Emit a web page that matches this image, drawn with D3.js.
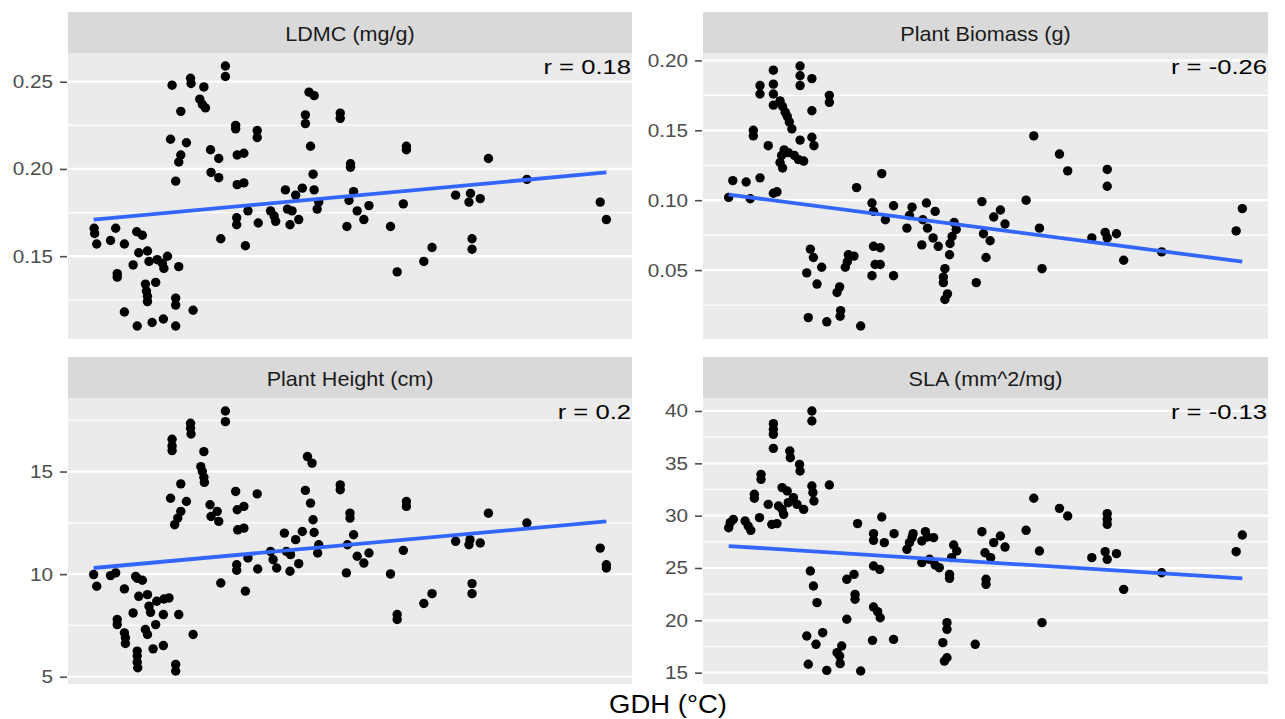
<!DOCTYPE html>
<html>
<head>
<meta charset="utf-8">
<script src="https://cdn.jsdelivr.net/npm/d3@7"></script>
<style>
  body { margin: 0; background: #fff; }
  text { font-family: "Liberation Sans", Arial, sans-serif; }
</style>
</head>
<body>
<div id="chart"></div>
<script>
// points are [GDH, value]; GDH axis is unlabelled so it is kept on a relative 0-100 scale
var ldmc = [
  [0.1,0.166],[0.2,0.163],[0.6,0.157],[4.3,0.166],[3.3,0.159],[6.0,0.157],[8.4,0.164],[9.5,0.162],[4.6,0.140],[4.6,0.138],
  [7.7,0.145],[8.8,0.152],[10.5,0.153],[10.8,0.147],[12.4,0.148],[14.4,0.150],[13.7,0.143],[13.4,0.146],[16.6,0.144],[10.1,0.134],
  [10.3,0.130],[10.5,0.127],[10.5,0.124],[12.1,0.135],[16.0,0.126],[16.0,0.122],[19.4,0.119],[6.0,0.118],[8.5,0.110],[11.4,0.112],
  [13.6,0.114],[16.0,0.110],
  [15.3,0.248],[18.9,0.252],[19.0,0.249],[21.5,0.247],[20.7,0.240],[21.2,0.237],[21.8,0.235],[25.7,0.259],[25.7,0.253],[17.0,0.233],
  [15.0,0.217],[18.1,0.215],[17.0,0.208],[16.6,0.204],[16.0,0.193],[22.8,0.211],[24.4,0.206],[22.9,0.198],[24.4,0.195],[24.8,0.160],
  [27.7,0.225],[27.7,0.223],[28.0,0.208],[29.3,0.209],[28.0,0.191],[29.3,0.192],[31.9,0.222],[31.9,0.218],[27.9,0.172],[27.9,0.168],
  [30.1,0.176],[32.1,0.169],[29.6,0.156],[34.5,0.176],[35.2,0.173],[35.5,0.170],[37.4,0.188],[37.8,0.177],[38.7,0.176],[38.3,0.168],
  [39.4,0.185],[40.7,0.189],[40.0,0.171],[41.3,0.231],[41.3,0.226],[42.0,0.244],[43.0,0.242],[42.3,0.213],[42.8,0.197],[43.0,0.188],
  [43.9,0.181],[43.6,0.177],[48.1,0.232],[48.1,0.229],
  [50.1,0.203],[50.1,0.201],[50.7,0.187],[49.8,0.182],[51.4,0.176],[52.7,0.171],[53.7,0.179],[49.4,0.167],[57.9,0.167],[60.4,0.180],
  [61.0,0.213],[61.0,0.211],[59.2,0.141],[64.4,0.147],[66.0,0.155],[70.6,0.185],[73.5,0.186],[73.2,0.181],[75.4,0.183],[73.8,0.160],
  [73.8,0.154],[77.0,0.206],[84.5,0.194],[98.8,0.181],[100.0,0.171]
];

var biomass = [
  [0.0,0.102],[0.8,0.114],[3.4,0.113],[4.2,0.101],[6.1,0.116],[7.7,0.139],[4.8,0.150],[4.8,0.146],[6.1,0.182],[6.1,0.176],
  [8.7,0.193],[8.7,0.183],[8.7,0.176],[8.7,0.168],[10.0,0.171],[10.5,0.167],[11.0,0.163],[11.4,0.160],[11.8,0.156],[12.3,0.151],
  [13.9,0.196],[13.9,0.189],[13.9,0.182],[16.2,0.187],[16.2,0.164],[19.6,0.175],[19.6,0.170],[13.9,0.143],[16.2,0.145],[16.6,0.139],
  [10.8,0.136],[10.3,0.132],[10.0,0.127],[10.5,0.123],[11.6,0.134],[12.8,0.132],[13.6,0.129],[14.6,0.128],[8.7,0.105],[9.4,0.106],
  [24.9,0.109],[29.8,0.119],[27.9,0.098],[28.2,0.092],[32.1,0.096],[30.5,0.086],[35.7,0.095],[35.2,0.089],[34.7,0.080],[38.5,0.098],
  [40.2,0.092],[37.8,0.086],[38.7,0.080],[39.8,0.073],[40.8,0.067],[37.6,0.068],[43.9,0.084],[44.3,0.079],[43.5,0.074],[43.1,0.069],
  [43.0,0.061],[42.1,0.051],[41.8,0.045],[41.8,0.041],[42.6,0.033],[42.1,0.029],[15.9,0.065],[16.5,0.059],[18.1,0.052],[15.2,0.048],
  [17.2,0.040],[21.6,0.038],[21.1,0.034],[21.8,0.021],[21.7,0.017],[15.5,0.016],[19.1,0.013],[25.7,0.010],[23.3,0.061],[24.4,0.060],
  [23.1,0.056],[22.7,0.052],[28.2,0.067],[29.5,0.066],[28.5,0.054],[29.5,0.054],[27.9,0.046],[32.1,0.046],[48.2,0.041],[49.3,0.099],
  [51.6,0.088],[52.9,0.093],[53.8,0.083],[49.6,0.076],[50.9,0.071],[50.1,0.059],[57.9,0.100],[59.4,0.146],[60.5,0.080],[61.0,0.051],
  [64.4,0.133],[66.0,0.121],[70.7,0.073],[73.7,0.122],[73.7,0.110],[73.3,0.077],[73.7,0.073],[75.5,0.076],[76.9,0.057],[84.3,0.063],
  [98.8,0.078],[100.0,0.094]
];

var height = [
  [0.0,9.98],[0.6,9.41],[3.3,9.93],[4.3,10.06],[6.0,9.28],[8.2,9.89],[8.5,9.80],[9.5,9.70],[4.6,7.79],[4.6,7.54],
  [6.0,7.14],[6.2,6.90],[6.2,6.62],[7.7,8.11],[8.8,8.92],[10.5,9.00],[10.8,8.44],[12.3,8.68],[13.7,8.79],[14.7,8.84],
  [11.1,8.14],[13.6,8.03],[16.6,8.03],[10.1,7.30],[10.5,7.06],[12.1,7.54],[19.4,7.06],[11.6,6.36],[13.6,6.52],[8.5,6.25],
  [8.5,6.01],[8.5,5.71],[8.6,5.44],[16.0,5.60],[16.0,5.28],
  [15.3,16.57],[15.3,16.25],[15.3,16.02],[18.9,17.35],[18.9,17.11],[19.0,16.83],[21.5,15.97],[20.9,15.24],[21.2,15.00],[21.5,14.72],
  [21.6,14.47],[25.7,17.95],[25.7,17.43],[17.0,14.40],[15.0,13.70],[18.1,13.54],[17.0,13.06],[16.4,12.73],[15.8,12.41],[22.7,13.38],
  [24.1,13.06],[22.9,12.81],[24.4,12.57],[24.8,9.57],[27.7,14.03],[28.0,13.14],[29.3,13.30],[28.1,12.16],[29.3,12.24],[31.9,13.91],
  [27.9,10.46],[27.9,10.19],[30.1,10.79],[32.0,10.25],[29.6,9.17],[34.5,11.11],[35.0,10.71],[35.7,10.30],[37.2,12.00],[37.6,11.11],
  [38.4,10.95],[38.3,10.14],[39.4,11.68],[40.7,12.08],[40.0,10.51],[41.7,15.73],[42.6,15.41],[41.3,14.08],[42.3,13.46],[42.8,12.65],
  [43.0,12.03],[43.9,11.43],[43.7,11.03],[48.1,14.35],[48.1,14.11],
  [50.0,12.97],[50.0,12.73],[50.7,11.92],[49.5,11.43],[51.4,10.87],[52.7,10.54],[53.7,11.03],[49.3,10.06],[57.9,10.01],[60.4,11.16],
  [61.0,13.54],[61.0,13.30],[59.2,8.03],[59.2,7.79],[64.4,8.57],[66.0,9.05],[70.6,11.60],[73.4,11.68],[73.2,11.43],[75.4,11.52],
  [73.8,9.54],[73.8,9.05],[77.0,12.97],[84.5,12.49],[98.8,11.27],[100.0,10.46],[100.0,10.30]
];

var sla = [
  [0.0,28.85],[0.3,29.33],[0.9,29.65],[3.2,29.49],[3.8,29.01],[4.3,28.60],[6.0,29.81],[5.0,32.04],[5.0,31.66],[6.3,33.95],
  [6.3,33.47],[7.7,31.08],[8.7,38.79],[8.7,38.25],[8.7,37.77],[8.7,36.43],[8.4,29.17],[9.4,29.24],[9.7,30.92],[10.4,30.60],
  [10.7,30.13],[10.4,32.68],[11.4,32.36],[11.9,36.18],[12.0,35.54],[11.6,31.24],[12.6,31.72],[13.3,31.08],[14.6,30.60],[13.8,34.90],
  [13.9,34.27],[16.2,40.00],[16.2,39.04],[16.2,32.83],[16.4,32.20],[16.6,31.40],[19.6,32.93],[15.9,24.71],[16.5,23.28],[17.2,21.69],
  [15.2,18.50],[17.0,17.71],[18.3,18.82],[15.5,15.80],[19.1,15.22],[21.7,15.86],[21.6,16.59],[21.1,16.91],[22.0,17.55],[23.0,20.10],
  [23.0,23.92],[24.4,24.39],[24.6,22.48],[24.6,22.01],[25.7,15.16],[25.1,29.24],[28.2,28.28],[28.2,27.64],[29.8,29.87],[30.3,27.42],
  [32.2,28.28],[28.2,25.19],[29.4,24.87],[28.2,21.27],[29.0,20.83],[29.5,20.25],[28.0,18.09],[32.1,18.18],[34.7,26.78],[35.2,27.42],
  [35.7,27.90],[35.9,28.28],[37.6,27.58],[38.3,28.47],[38.7,27.96],[39.9,27.90],[37.6,25.51],[39.1,25.83],[40.2,25.29],[41.0,25.03],
  [43.8,27.20],[44.4,26.62],[43.4,25.99],[43.0,24.39],[43.0,24.01],[42.5,19.78],[42.5,19.14],[41.7,17.87],[42.5,16.43],[42.0,16.11],
  [48.0,17.71],[49.3,28.47],[49.9,26.46],[51.0,25.99],[50.1,23.92],[50.1,23.44],[51.6,27.42],[52.9,28.06],[53.8,27.00],[57.9,28.60],
  [59.4,31.66],[60.5,26.62],[61.0,19.78],[64.4,30.70],[66.0,29.97],[70.7,25.99],[73.7,30.19],[73.7,29.65],[73.7,29.17],[73.3,26.56],
  [73.7,25.83],[75.5,26.37],[76.9,22.96],[84.3,24.55],[98.8,26.56],[100.0,28.15]
];

// fitted line values at lowest and highest GDH
var ldmcFit = [0.171, 0.198];
var biomassFit = [0.104, 0.056];
var heightFit = [10.30, 12.57];
var slaFit = [27.1, 24.0];

var ldmcTicks = [0.15, 0.20, 0.25];
var biomassTicks = [0.05, 0.10, 0.15, 0.20];
var heightTicks = [5, 10, 15];
var slaTicks = [15, 20, 25, 30, 35, 40];

var titles = ["LDMC (mg/g)", "Plant Biomass (g)", "Plant Height (cm)", "SLA (mm^2/mg)"];
var rLabels = ["r = 0.18", "r = -0.26", "r = 0.2", "r = -0.13"];

var panels = [
  {title: titles[0], r: rLabels[0], data: ldmc, fit: ldmcFit, ticks: ldmcTicks, fmt: d3.format(".2f")},
  {title: titles[1], r: rLabels[1], data: biomass, fit: biomassFit, ticks: biomassTicks, fmt: d3.format(".2f")},
  {title: titles[2], r: rLabels[2], data: height, fit: heightFit, ticks: heightTicks, fmt: d3.format("d")},
  {title: titles[3], r: rLabels[3], data: sla, fit: slaFit, ticks: slaTicks, fmt: d3.format("d")}
];

var W = 1285, H = 719;
var colX = [68, 703], colW = [564, 565];
var rowY = [12, 357], stripH = 41, panelH = 286;

var svg = d3.select("#chart").append("svg")
  .attr("width", W)
  .attr("height", H);

// shared x scale, ggplot style 5% expansion
var allX = [].concat(ldmc, biomass, height, sla).map(function(d) { return d[0]; });
var xExt = d3.extent(allX);
var xPad = (xExt[1] - xExt[0]) * 0.05;

function stretch(sel, x, y, sx) {
  sel.attr("transform", "translate(" + x + "," + y + ") scale(" + sx + ",1)");
}

panels.forEach(function(p, i) {
  var col = i % 2, row = Math.floor(i / 2);
  var x0 = colX[col], w = colW[col];
  var top = rowY[row] + stripH, bottom = top + panelH;

  var x = d3.scaleLinear().domain([xExt[0] - xPad, xExt[1] + xPad]).range([x0, x0 + w]);
  var yExt = d3.extent(p.data, function(d) { return d[1]; });
  var yPad = (yExt[1] - yExt[0]) * 0.05;
  var y = d3.scaleLinear().domain([yExt[0] - yPad, yExt[1] + yPad]).range([bottom, top]);

  var g = svg.append("g");

  // strip
  g.append("rect")
    .attr("x", x0).attr("y", rowY[row])
    .attr("width", w).attr("height", stripH)
    .style("fill", "#d9d9d9");
  g.append("text")
    .text(p.title)
    .call(stretch, x0 + w / 2, rowY[row] + 29, 1.08)
    .attr("text-anchor", "middle")
    .style("font-size", "20px")
    .style("fill", "#1a1a1a");

  // panel background
  g.append("rect")
    .attr("x", x0).attr("y", top)
    .attr("width", w).attr("height", panelH)
    .style("fill", "#ebebeb");

  // minor grid at half steps
  var step = p.ticks[1] - p.ticks[0];
  var dom = y.domain();
  var minor = d3.range(p.ticks[0] - step / 2, p.ticks[p.ticks.length - 1] + step, step)
    .filter(function(v) { return v > dom[0] && v < dom[1]; });
  g.selectAll(".minor").data(minor).enter().append("line")
    .attr("x1", x0).attr("x2", x0 + w)
    .attr("y1", function(d) { return y(d); })
    .attr("y2", function(d) { return y(d); })
    .style("stroke", "#fff").style("stroke-width", 1.2);
  g.selectAll(".major").data(p.ticks).enter().append("line")
    .attr("x1", x0).attr("x2", x0 + w)
    .attr("y1", function(d) { return y(d); })
    .attr("y2", function(d) { return y(d); })
    .style("stroke", "#fff").style("stroke-width", 2.2);

  // y axis
  var axis = g.append("g")
    .attr("transform", "translate(" + (x0 - 1) + ",0)")
    .call(d3.axisLeft(y).tickValues(p.ticks).tickFormat(p.fmt).tickSize(7).tickPadding(6));
  axis.select(".domain").remove();
  axis.selectAll(".tick line").style("stroke", "#4d4d4d").style("stroke-width", 1.6);
  axis.selectAll(".tick text")
    .style("font-size", "18.5px")
    .style("fill", "#4d4d4d")
    .style("font-family", "Liberation Sans, Arial, sans-serif")
    .attr("transform", "scale(1.12,1)")
    .attr("x", -14 / 1.12);

  // points
  g.selectAll(".pt").data(p.data).enter().append("circle")
    .attr("cx", function(d) { return x(d[0]); })
    .attr("cy", function(d) { return y(d[1]); })
    .attr("r", 4.7)
    .style("fill", "#000");

  // fitted line
  g.append("line")
    .attr("x1", x(xExt[0])).attr("x2", x(xExt[1]))
    .attr("y1", y(p.fit[0])).attr("y2", y(p.fit[1]))
    .style("stroke", "#3366ff").style("stroke-width", 3.8);

  // correlation
  g.append("text")
    .text(p.r)
    .call(stretch, x0 + w - 1, top + 21, 1.22)
    .attr("text-anchor", "end")
    .style("font-size", "21px")
    .style("fill", "#000");
});

svg.append("text")
  .text("GDH (°C)")
  .call(stretch, 668, 713, 1.1)
  .attr("text-anchor", "middle")
  .style("font-size", "25px")
  .style("fill", "#000");
</script>
</body>
</html>
